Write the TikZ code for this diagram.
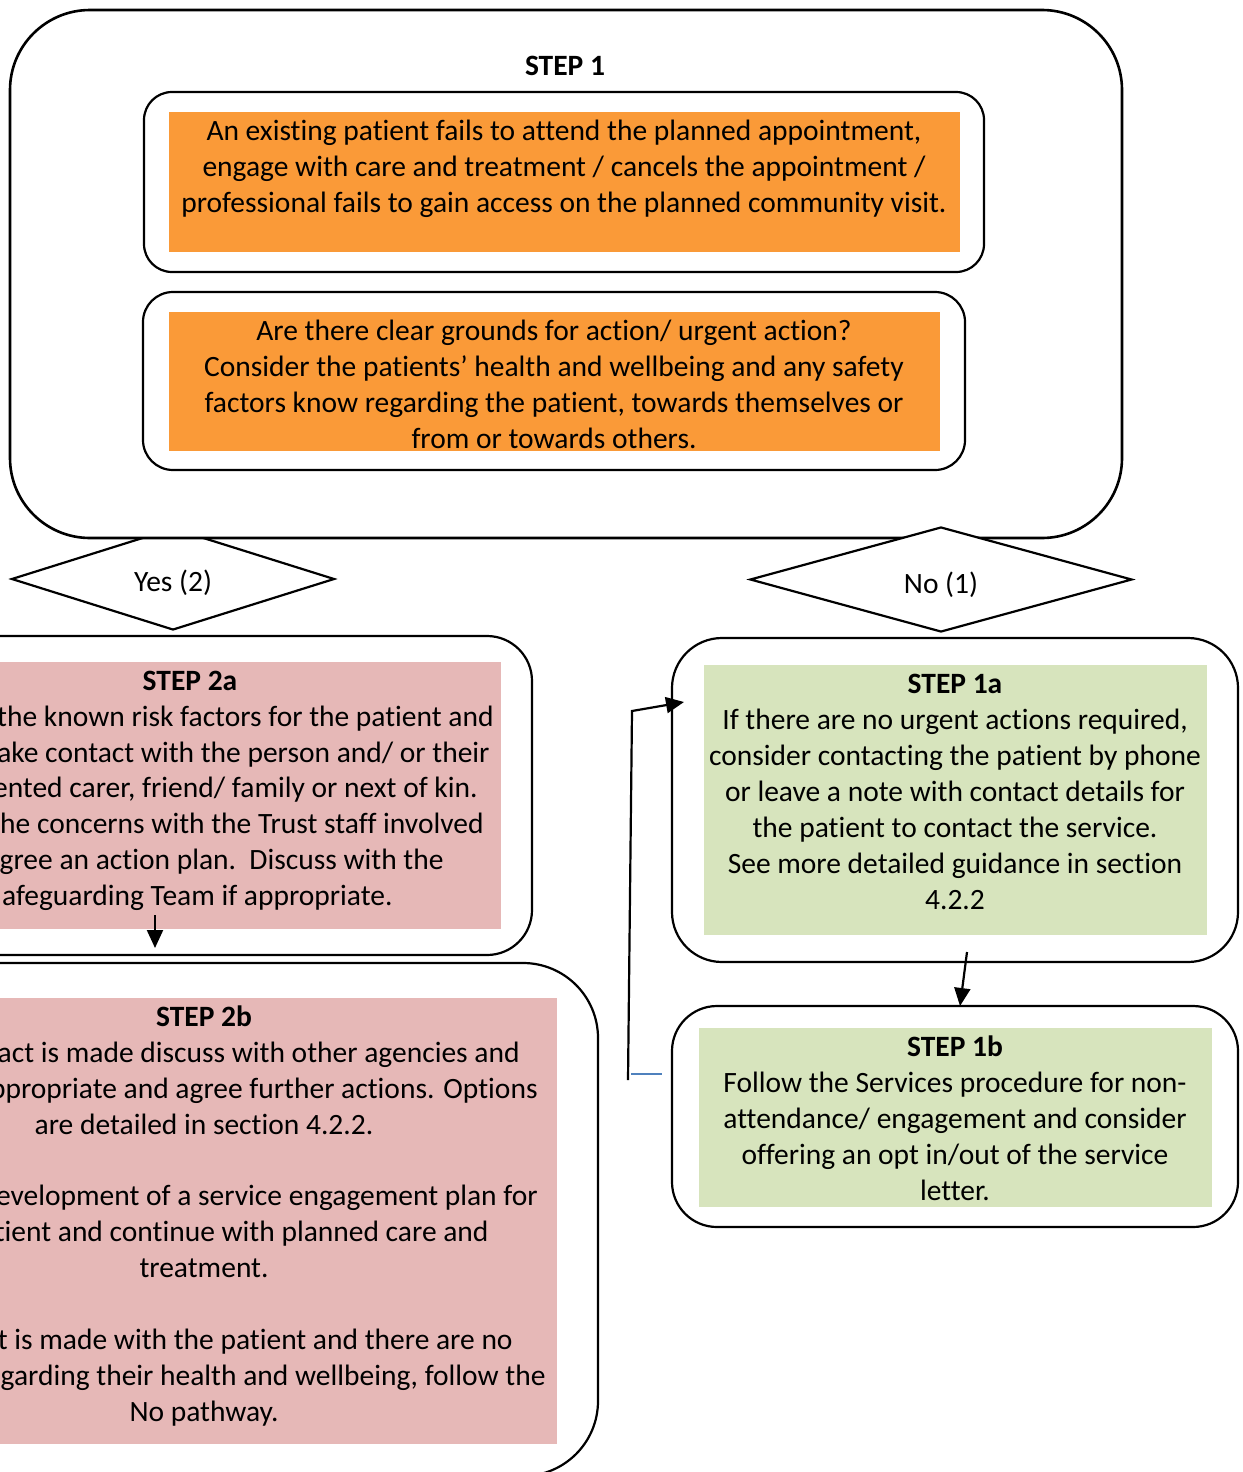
\documentclass[tikz,border=0pt]{standalone}
\usepackage{fontspec}
\setmainfont{Carlito}[Ligatures=NoCommon]
\usetikzlibrary{shapes.geometric,arrows.meta}
\definecolor{orangefill}{HTML}{FA9A38}
\definecolor{pinkfill}{HTML}{E6B8B7}
\definecolor{greenfill}{HTML}{D7E4BD}
\definecolor{blueline}{HTML}{4F81BD}
\tikzset{
  box/.style={draw=black, line width=1.1pt, rectangle, inner sep=0pt, fill=white},
  fillbox/.style={rectangle, inner sep=0pt, draw=none},
  txt/.style={font=\fontsize{14.75}{18}\selectfont, align=center, inner sep=0pt, anchor=north},
  lnr/.style={font=\fontsize{14.75}{18}\selectfont, inner sep=0pt, anchor=base east},
  lnc/.style={font=\fontsize{14.75}{18}\selectfont, inner sep=0pt, anchor=base},
  dia/.style={draw=black, line width=1.1pt, diamond, inner sep=0pt, fill=white},
  arr/.style={draw=black, line width=1.1pt, -{Triangle[length=9pt,width=8pt]}},
}
\begin{document}
\begin{tikzpicture}[x=0.5pt,y=-0.5pt]
\useasboundingbox (0,0) rectangle (1242,1472);
\fill[white] (0,0) rectangle (1242,1472);
\clip (0,0) rectangle (1242,1472);

% Yes diamond (behind step 1 box)
\node[dia, minimum width=161.5pt, minimum height=51pt] (yes) at (173,579) {};
\node[lnc] (yest) at (173,591) {Yes (2)};

% STEP 1
\node[box, line width=1.3pt, minimum width=556pt, minimum height=264pt, rounded corners=40pt] (s1) at (566,274) {};
\node[lnc, font=\fontsize{14.75}{18}\selectfont\bfseries] (s1t) at (565,75) {STEP 1};
\node[box, minimum width=420pt, minimum height=90pt, rounded corners=14pt] (in1) at (564,182) {};
\node[fillbox, fill=orangefill, minimum width=395.5pt, minimum height=70pt] (or1) at (564.5,182) {};
\node[txt] (t1) at (564,115) {\strut An existing patient fails to attend the planned appointment,\\engage with care and treatment / cancels the appointment /\\professional fails to gain access on the planned community visit.};
\node[box, minimum width=411pt, minimum height=89pt, rounded corners=15pt] (in2) at (554,381) {};
\node[fillbox, fill=orangefill, minimum width=385.5pt, minimum height=69.5pt] (or2) at (554.5,381.5) {};
\node[txt] (t2) at (554,315) {\strut Are there clear grounds for action/ urgent action?\\Consider the patients’ health and wellbeing and any safety\\factors know regarding the patient, towards themselves or\\from or towards others.};

% No diamond
\node[dia, minimum width=191pt, minimum height=52.5pt] (no) at (941,579.5) {};
\node[lnc] (not) at (941,593) {No (1)};

% STEP 2a
\node[box, minimum width=316pt, minimum height=159.5pt, rounded corners=22.5pt] (b2a) at (216,795.5) {};
\node[fillbox, fill=pinkfill, minimum width=275.5pt, minimum height=133.5pt] (p2a) at (225.5,795.5) {};
\node[lnc, font=\fontsize{14.75}{18}\selectfont\bfseries] (l2a0) at (190,690) {STEP 2a};
\node[lnr] (l2a1) at (494,726) {the known risk factors for the patient and};
\node[lnr] (l2a2) at (490,762) {ake contact with the person and/ or their};
\node[lnr] (l2a3) at (478,797) {ented carer, friend/ family or next of kin.};
\node[lnr] (l2a4) at (484,833) {he concerns with the Trust staff involved};
\node[lnr] (l2a5) at (444,869) {gree an action plan.\ \ Discuss with the};
\node[lnr] (l2a6) at (393,905) {afeguarding Team if appropriate.};

% STEP 2b
\node[box, minimum width=349pt, minimum height=256.5pt, rounded corners=37.5pt] (b2b) at (249,1219.5) {};
\node[fillbox, fill=pinkfill, minimum width=303.5pt, minimum height=223pt] (p2b) at (253.5,1221) {};
\node[lnc, font=\fontsize{14.75}{18}\selectfont\bfseries] (l2b0) at (204,1026) {STEP 2b};
\node[lnr] (l2b1) at (520,1062) {act is made discuss with other agencies and};
\node[lnr] (l2b2) at (538,1098) {ppropriate and agree further actions. Options};
\node[lnc] (l2b3) at (204,1134) {are detailed in section 4.2.2.};
\node[lnr] (l2b4) at (538,1205) {evelopment of a service engagement plan for};
\node[lnr] (l2b5) at (489,1241) {tient and continue with planned care and};
\node[lnc] (l2b6) at (204,1277) {treatment.};
\node[lnr] (l2b7) at (513,1349) {t is made with the patient and there are no};
\node[lnr] (l2b8) at (546,1385) {garding their health and wellbeing, follow the};
\node[lnc] (l2b9) at (204,1421) {No pathway.};

% STEP 1a
\node[box, minimum width=283pt, minimum height=162pt, rounded corners=25pt] (b1a) at (955,800) {};
\node[fillbox, fill=greenfill, minimum width=251.5pt, minimum height=135pt] (g1a) at (955.5,800) {};
\node[txt] (t1a) at (955,668) {\strut\textbf{STEP 1a}\\If there are no urgent actions required,\\consider contacting the patient by phone\\or leave a note with contact details for\\the patient to contact the service.\\See more detailed guidance in section\\4.2.2};

% STEP 1b
\node[box, minimum width=283pt, minimum height=110.5pt, rounded corners=22.5pt] (b1b) at (955,1116.5) {};
\node[fillbox, fill=greenfill, minimum width=256.5pt, minimum height=89.5pt] (g1b) at (955.5,1117.5) {};
\node[txt] (t1b) at (955,1031) {\strut\textbf{STEP 1b}\\Follow the Services procedure for non-\\attendance/ engagement and consider\\offering an opt in/out of the service\\letter.};

% connectors
\coordinate (a2s) at (155,915);
\coordinate (a2e) at (155,948);
\draw[arr] (a2s) -- (a2e);
\coordinate (a1s) at (967,952);
\coordinate (a1e) at (960,1006);
\draw[arr] (a1s) -- (a1e);
\coordinate (lb) at (628,1080);
\coordinate (lt) at (632,711);
\coordinate (le) at (684,702);
\draw[arr] (lb) -- (lt) -- (le);
\coordinate (bl1) at (631,1074);
\coordinate (bl2) at (662,1074);
\draw[blueline, line width=1pt] (bl1) -- (bl2);
\end{tikzpicture}
\end{document}
